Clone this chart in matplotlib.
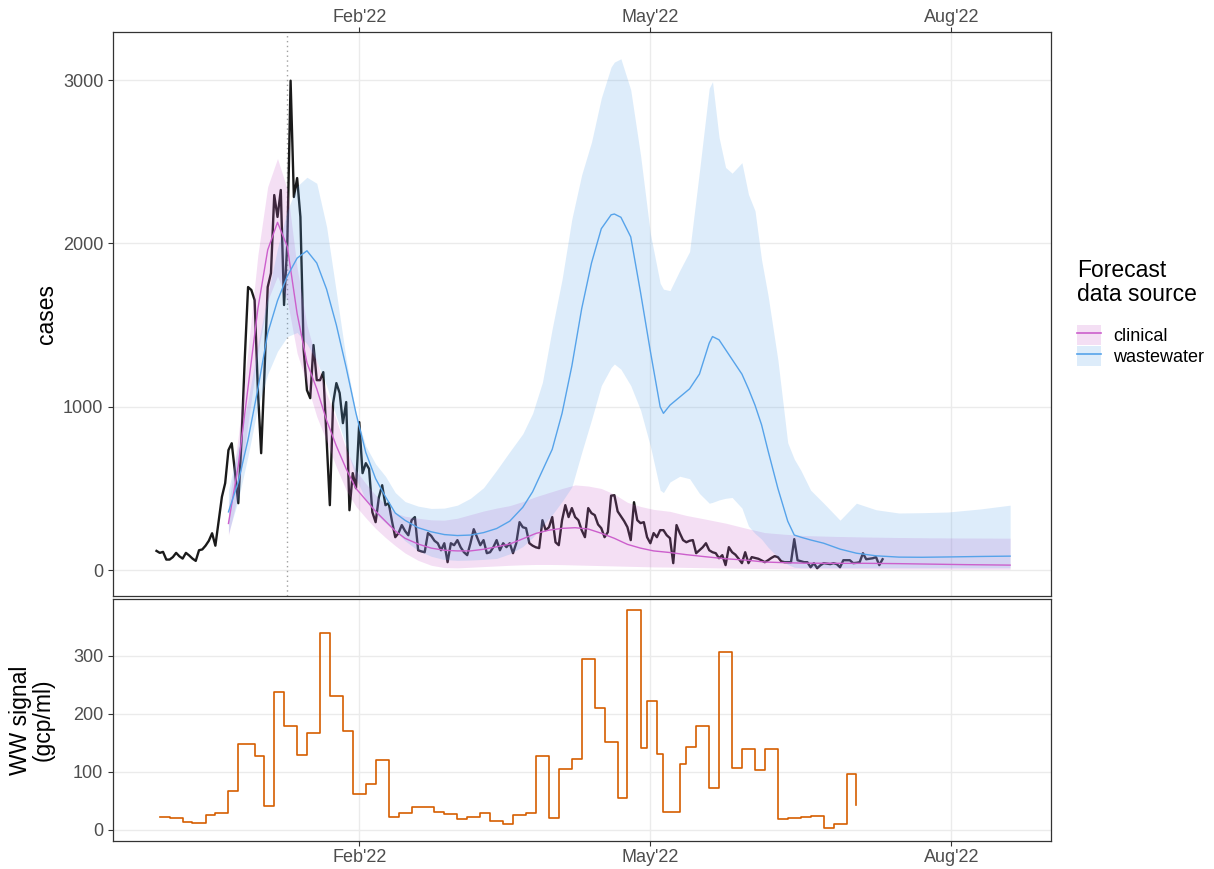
import numpy as np
import matplotlib
matplotlib.use("Agg")
import matplotlib.pyplot as plt
import matplotlib.dates as mdates
from matplotlib.patches import Patch
from matplotlib.lines import Line2D
from matplotlib.legend_handler import HandlerTuple

plt.rcParams['font.family'] = ['Liberation Sans', 'DejaVu Sans']

# ---------------- data ----------------
base_date = np.datetime64('2022-02-01')      # day offsets below are relative to this date
forecast_date = np.datetime64('2022-01-10')  # dotted vertical line

obs_start = np.datetime64('2021-12-01')
obs_cases = [118, 106, 112, 65, 65, 80, 106, 85, 71, 106, 90, 71, 57, 122, 127, 150, 180, 226, 150, 300,
             449, 533, 735, 777, 600, 410, 800, 1300, 1733, 1715, 1653, 1100, 716, 1200, 1733, 1818,
             2296, 2162, 2327, 1623, 2002, 2996, 2284, 2400, 2162, 1347, 1102, 1053, 1378, 1163, 1163,
             1212, 800, 398, 1023, 1145, 1084, 900, 1029, 367, 594, 502, 906, 594, 655, 620, 355, 294,
             447, 520, 398, 410, 300, 202, 227, 276, 240, 214, 306, 325, 122, 115, 110, 227, 210, 180,
             165, 122, 165, 49, 165, 153, 184, 140, 110, 92, 165, 251, 202, 153, 184, 104, 110, 141,
             184, 122, 165, 141, 165, 104, 165, 294, 263, 257, 165, 150, 140, 135, 306, 245, 263, 325,
             171, 153, 306, 398, 325, 380, 325, 306, 245, 202, 380, 349, 337, 280, 257, 202, 233, 456,
             459, 360, 330, 300, 263, 184, 416, 306, 288, 294, 202, 165, 227, 202, 245, 245, 214, 196,
             43, 276, 227, 184, 171, 180, 184, 104, 122, 140, 165, 122, 110, 104, 73, 92, 31, 141, 110,
             95, 70, 43, 110, 43, 80, 75, 70, 60, 49, 61, 75, 86, 80, 55, 49, 49, 49, 190, 61, 55, 49,
             49, 18, 43, 12, 30, 43, 40, 37, 43, 37, 18, 61, 61, 61, 43, 45, 49, 104, 67, 70, 73, 80,
             31, 67]

clin_day = [-40, -37, -34, -31, -28, -25, -22, -19, -16, -13, -10, -7, -4, -1, 2, 5, 8, 11, 14, 18, 22,
            26, 30, 34, 38, 42, 46, 50, 54, 58, 62, 66, 70, 74, 78, 82, 86, 90, 95, 100, 106, 112, 118,
            124, 130, 136, 145, 155, 165, 175, 185, 199]
clin_median = [286, 640, 1120, 1600, 1960, 2129, 1980, 1570, 1270, 1110, 918, 760, 620, 500, 430, 360,
               300, 240, 195, 160, 135, 122, 118, 118, 128, 143, 160, 192, 225, 245, 256, 260, 252,
               226, 195, 158, 135, 118, 108, 95, 82, 70, 62, 50, 46, 43, 42, 42, 40, 37, 34, 31]
clin_lower = [214, 470, 900, 1330, 1650, 1800, 1650, 1327, 1140, 940, 790, 630, 490, 390, 320, 255, 200,
              150, 105, 60, 30, 16, 14, 18, 22, 26, 30, 33, 35, 35, 34, 32, 30, 28, 26, 24, 22, 20, 19,
              17, 15, 13, 11, 10, 9, 9, 8, 8, 7, 7, 6, 6]
clin_upper = [390, 820, 1350, 1930, 2347, 2520, 2330, 1850, 1500, 1280, 1082, 920, 740, 610, 530, 460,
              400, 350, 330, 318, 308, 306, 318, 340, 362, 380, 395, 420, 450, 475, 500, 522, 515, 500,
              465, 415, 390, 372, 360, 335, 312, 288, 258, 230, 220, 212, 207, 203, 200, 198, 197, 196]

ww_day = [-40, -37, -34, -31, -28, -25, -22, -19, -16, -13, -10, -7, -4, -1, 2, 5, 8, 11, 14, 18, 22, 26,
          30, 34, 38, 42, 46, 50, 53, 56, 59, 62, 65, 68, 71, 74, 77, 78, 80, 83, 86, 89, 92, 93, 95, 98,
          101, 104, 107, 108, 110, 112, 114, 117, 119, 121, 123, 125, 128, 131, 133, 135, 138, 142,
          147, 152, 158, 165, 172, 180, 190, 199]
ww_median = [357, 540, 800, 1110, 1450, 1650, 1800, 1910, 1955, 1880, 1720, 1500, 1240, 960, 720, 560,
             450, 350, 305, 260, 235, 218, 212, 215, 230, 255, 300, 385, 480, 610, 740, 960, 1250, 1600,
             1880, 2090, 2175, 2180, 2160, 2040, 1700, 1340, 1000, 960, 1010, 1060, 1110, 1200, 1390,
             1430, 1410, 1350, 1290, 1200, 1110, 1010, 890, 730, 500, 300, 215, 202, 185, 165, 129,
             104, 88, 80, 79, 81, 84, 86]
ww_lower = [225, 430, 700, 1000, 1200, 1340, 1430, 1455, 1385, 1280, 1130, 940, 760, 560, 430, 345, 290,
            240, 180, 120, 85, 65, 60, 62, 66, 72, 100, 145, 200, 270, 340, 420, 510, 720, 920, 1130,
            1240, 1262, 1230, 1130, 980, 760, 490, 475, 540, 575, 560, 470, 410, 415, 430, 440, 445,
            380, 270, 225, 190, 140, 80, 35, 18, 15, 15, 15, 15, 15, 15, 15, 15, 15, 15, 15]
ww_upper = [490, 760, 1040, 1380, 1680, 1970, 2200, 2350, 2405, 2368, 2103, 1700, 1290, 960, 760, 650,
            575, 475, 420, 392, 378, 380, 398, 440, 505, 612, 725, 835, 960, 1150, 1480, 1780, 2150,
            2420, 2620, 2890, 3080, 3110, 3130, 2940, 2540, 2060, 1756, 1720, 1711, 1835, 1950, 2440,
            2950, 2990, 2650, 2465, 2430, 2494, 2300, 2200, 1900, 1680, 1286, 780, 680, 612, 490, 410,
            306, 410, 370, 350, 352, 356, 375, 398]

ww_sample_day = [-61, -58, -54, -51, -47, -44, -40, -37, -32, -29, -26, -23, -19, -16, -12, -9, -5, -2,
                 2, 5, 9, 12, 16, 19, 23, 26, 30, 33, 37, 40, 44, 47, 51, 54, 58, 61, 65, 68, 72, 75,
                 79, 82, 86, 88, 91, 93, 98, 100, 103, 107, 110, 114, 117, 121, 124, 128, 131, 135,
                 138, 142, 145, 149, 152]
ww_signal = [23, 20, 14.4, 11.5, 25.9, 28.7, 67.2, 148.3, 128.2, 41.4, 238, 179.3, 129.3, 166.7, 339,
             231, 171.3, 62, 78.7, 120, 21.8, 28.7, 40.2, 39.5, 31, 27.6, 19.5, 21.8, 29.9, 15.5, 9.8,
             25.9, 28.7, 128.2, 20.1, 104.6, 121.8, 295.4, 210.3, 151.7, 55.2, 379.3, 140.8, 222.9,
             131, 31, 113.4, 143.7, 179.3, 71.8, 307, 107.5, 139, 103.4, 140.2, 19, 21.3, 21.5, 24.7,
             4, 10.3, 96, 43]

source_labels = ['clinical', 'wastewater']
xtick_dates = ['2022-02-01', '2022-05-01', '2022-08-01']
xtick_labels = ["Feb'22", "May'22", "Aug'22"]
cases_ticks = [0, 1000, 2000, 3000]
ww_ticks = [0, 100, 200, 300]

# ---------------- styling ----------------
c_clin = '#CC5FCC'
c_ww = '#56A3EA'
c_obs = '#1A1A1A'
c_sig = '#D55E00'
grid_c = '#EBEBEB'
tick_c = '#4D4D4D'

def offs(days):
    return base_date + np.array(days).astype('timedelta64[D]')

obs_dates = obs_start + np.arange(len(obs_cases)).astype('timedelta64[D]')
clin_dates = offs(clin_day)
ww_dates = offs(ww_day)
sig_dates = offs(ww_sample_day)

W, H = 1214, 869
fig = plt.figure(figsize=(W / 100, H / 100), dpi=100)
ax1 = fig.add_axes([113 / W, 1 - 596 / H, (1051 - 113) / W, (596 - 32) / H])
ax2 = fig.add_axes([113 / W, 1 - 841 / H, (1051 - 113) / W, (841 - 599) / H])

xlim = (mdates.date2num(base_date) - 75.3, mdates.date2num(base_date) + 211.5)

for ax in (ax1, ax2):
    ax.set_facecolor('white')
    for s in ax.spines.values():
        s.set_color('#333333')
        s.set_linewidth(0.9)
    ax.grid(True, color=grid_c, linewidth=1.0, zorder=0)
    ax.set_axisbelow(True)
    ax.tick_params(colors='#333333', labelcolor=tick_c, labelsize=13, length=3.5, width=0.8)
    ax.set_xlim(xlim)
    ax.set_xticks(mdates.date2num(np.array(xtick_dates, dtype='datetime64[D]')))
    ax.set_xticklabels(xtick_labels)

# top panel
ax1.plot(obs_dates, obs_cases, color=c_obs, lw=1.7, zorder=2, solid_joinstyle='round')
ax1.fill_between(clin_dates, clin_lower, clin_upper, color=c_clin, alpha=0.2, lw=0, zorder=3)
ax1.fill_between(ww_dates, ww_lower, ww_upper, color=c_ww, alpha=0.2, lw=0, zorder=3)
ax1.plot(clin_dates, clin_median, color=c_clin, lw=1.0, zorder=4)
ax1.plot(ww_dates, ww_median, color=c_ww, lw=1.0, zorder=4)
ax1.axvline(forecast_date, color='#A0A0A0', lw=1.0, ls=(0, (1, 2.5)), zorder=1)
ax1.set_ylim(-158, 3294)
ax1.set_yticks(cases_ticks)
ax1.set_xlim(xlim)
ax1.xaxis.tick_top()
ax1.tick_params(axis='x', pad=0.5)

# bottom panel
ax2.step(sig_dates, ww_signal, where='post', color=c_sig, lw=1.2, zorder=3)
ax2.set_ylim(-19, 398)
ax2.set_yticks(ww_ticks)
ax2.set_xlim(xlim)
ax2.tick_params(axis='x', pad=2)

fig.text(47 / W, 1 - 314 / H, 'cases', rotation=90, ha='center', va='center', fontsize=16.5)
fig.text(32 / W, 1 - 720 / H, 'WW signal\n(gcp/ml)', rotation=90, ha='center', va='center',
         fontsize=16.5, linespacing=1.0)

handles = [(Patch(facecolor=c, alpha=0.2, edgecolor='none'), Line2D([0], [0], color=c, lw=1.2))
           for c in (c_clin, c_ww)]
leg = fig.legend(handles, source_labels, title='Forecast\ndata source', loc='upper left',
                 bbox_to_anchor=(1077 / W, 1 - 259 / H), frameon=False, fontsize=13,
                 title_fontsize=16.5, alignment='left', handlelength=1.35, handleheight=1.3,
                 labelspacing=0.05, handletextpad=0.65, borderpad=0, borderaxespad=0,
                 handler_map={tuple: HandlerTuple(ndivide=1, pad=0)})
leg.get_title().set_linespacing(1.05)
leg._legend_box.sep = 14

fig.savefig('out.png', dpi=100)
